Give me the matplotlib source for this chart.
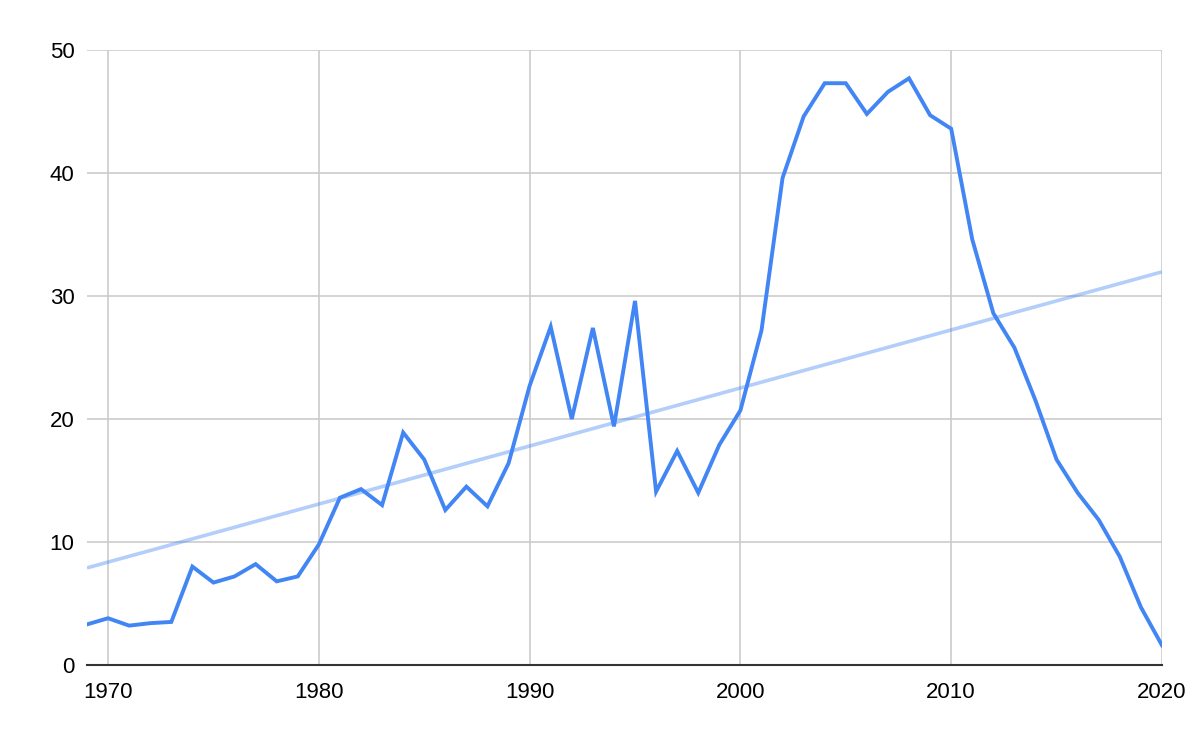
import numpy as np
import matplotlib
matplotlib.use("Agg")
import matplotlib.pyplot as plt

plt.rcParams["font.family"] = ["Liberation Sans", "DejaVu Sans"]

# Data
years = list(range(1969, 2021))
values = [
    3.3, 3.8, 3.2, 3.4, 3.5, 8.0, 6.7, 7.2, 8.2, 6.8,
    7.2, 9.8, 13.6, 14.3, 13.0, 18.9, 16.7, 12.6, 14.5, 12.9,
    16.4, 22.7, 27.5, 20.0, 27.4, 19.4, 29.6, 14.1, 17.4, 14.0,
    17.9, 20.7, 27.2, 39.6, 44.6, 47.3, 47.3, 44.8, 46.6, 47.7,
    44.7, 43.6, 34.6, 28.6, 25.8, 21.5, 16.7, 14.0, 11.8, 8.8,
    4.7, 1.6,
]
x_ticks = [1970, 1980, 1990, 2000, 2010, 2020]
y_ticks = [0, 10, 20, 30, 40, 50]

x = np.array(years, dtype=float)
y = np.array(values)

# linear trendline
slope, intercept = np.polyfit(x, y, 1)

fig = plt.figure(figsize=(12, 7.42), dpi=100)
ax = fig.add_axes([0.0725, 0.1038, 0.8958, 0.8288])

ax.plot(x, slope * x + intercept, color="#4285F4", alpha=0.4, linewidth=2.6,
        solid_capstyle="butt")
ax.plot(x, y, color="#4285F4", linewidth=2.8, solid_joinstyle="miter")

ax.set_xlim(1969, 2020)
ax.set_ylim(0, 50)
ax.set_xticks(x_ticks)
ax.set_yticks(y_ticks)
ax.grid(True, color="#cccccc", linewidth=1.2)
ax.set_axisbelow(True)

for side in ["top", "right", "left"]:
    ax.spines[side].set_visible(False)
ax.spines["bottom"].set_color("#333333")
ax.spines["bottom"].set_linewidth(1.5)

ax.tick_params(length=0, labelsize=16, colors="#000000")
ax.tick_params(axis="y", pad=9)
ax.tick_params(axis="x", pad=12)

fig.savefig("out.png", dpi=100)
